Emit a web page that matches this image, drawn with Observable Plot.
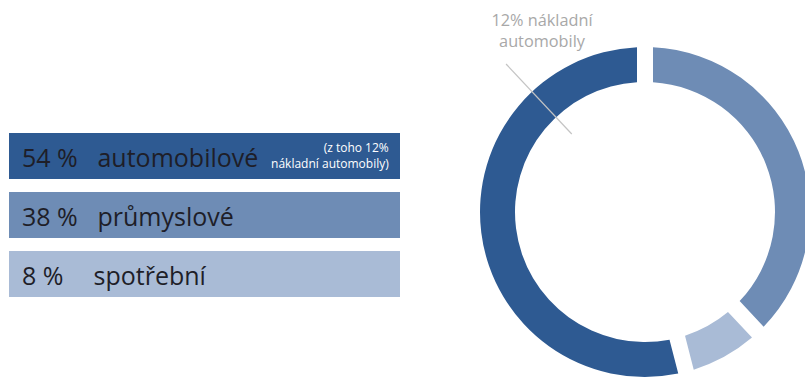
<!DOCTYPE html>
<html>
<head>
<meta charset="utf-8">
<script src="https://cdn.jsdelivr.net/npm/d3@7"></script>
<script src="https://cdn.jsdelivr.net/npm/@observablehq/plot@0.6"></script>
<style>
  html, body { margin: 0; padding: 0; background: #fff; overflow: hidden; }
  #chart { width: 805px; height: 378px; }
</style>
</head>
<body>
<div id="chart"></div>
<script>
// Data
const categories = ["automobilové", "průmyslové", "spotřební"];
const shares = [54, 38, 8];
const percentLabels = ["54 %", "38 %", "8 %"];
const colors = ["#2e5a92", "#6e8cb5", "#a9bbd6"];
const ringOrder = ["průmyslové", "spotřební", "automobilové"];
const truckShare = 12;
const noteLines = ["(z toho 12%", "nákladní automobily)"];
const truckLabel = ["12% nákladní", "automobily"];

const legend = categories.map((name, i) => ({name, value: shares[i], pct: percentLabels[i]}));
const ring = ringOrder.map(n => legend.find(d => d.name === n));

const font = "'Open Sans', 'Noto Sans', sans-serif";

function donut(index, scales) {
  const cx = 645, cy = 212, ro = 165, ri = 130;
  const pie = d3.pie().sort(null).value(d => d.value).startAngle(0).endAngle(2 * Math.PI);
  const arcs = pie(ring);
  const arc = d3.arc().innerRadius(ri).outerRadius(ro).padRadius(ro).padAngle(16 / ro);
  const g = d3.create("svg:g").attr("transform", `translate(${cx},${cy})`);
  g.selectAll("path").data(arcs).join("path")
    .attr("d", arc)
    .attr("fill", d => scales.color(d.data.name));
  // radial tick marking the truck share
  const a = 2 * Math.PI * (1 - truckShare / 100);
  const r1 = 107, r2 = 203;
  g.append("line")
    .attr("x1", r1 * Math.sin(a)).attr("y1", -r1 * Math.cos(a))
    .attr("x2", r2 * Math.sin(a)).attr("y2", -r2 * Math.cos(a))
    .attr("stroke", "#c4c4c4").attr("stroke-width", 1.2);
  const t = g.append("text")
    .attr("text-anchor", "middle")
    .attr("fill", "#a8a8a8")
    .attr("font-family", font)
    .attr("font-size", 16.3);
  truckLabel.forEach((line, i) => {
    t.append("tspan").attr("x", -103).attr("y", -186 + i * 21).text(line);
  });
  return g.node();
}

const chart = Plot.plot({
  width: 805,
  height: 378,
  margin: 0,
  style: {fontFamily: font, background: "#fff"},
  x: {domain: [0, 100], range: [9, 400], axis: null},
  y: {domain: categories, range: [132, 297], paddingInner: 0.227, paddingOuter: 0, axis: null},
  color: {domain: categories, range: colors},
  marks: [
    Plot.barX(legend, {y: "name", x1: 0, x2: 100, fill: "name"}),
    Plot.text(legend, {y: "name", x: 3.2, text: "pct", textAnchor: "start", fontSize: 25, fill: "#1e1e28", dy: 2}),
    Plot.text(legend, {y: "name", x: d => d.name === "spotřební" ? 21.5 : 22.5, text: "name", textAnchor: "start", fontSize: 25, fill: "#1e1e28", dy: 2}),
    Plot.text(legend.filter(d => d.name === "automobilové"), {y: "name", x: 97, text: () => noteLines[0], textAnchor: "end", fontSize: 12, fill: "#ffffff", dy: -8.5}),
    Plot.text(legend.filter(d => d.name === "automobilové"), {y: "name", x: 97, text: () => noteLines[1], textAnchor: "end", fontSize: 12, fill: "#ffffff", dy: 8}),
    donut
  ]
});
document.getElementById("chart").appendChild(chart);
</script>
</body>
</html>
